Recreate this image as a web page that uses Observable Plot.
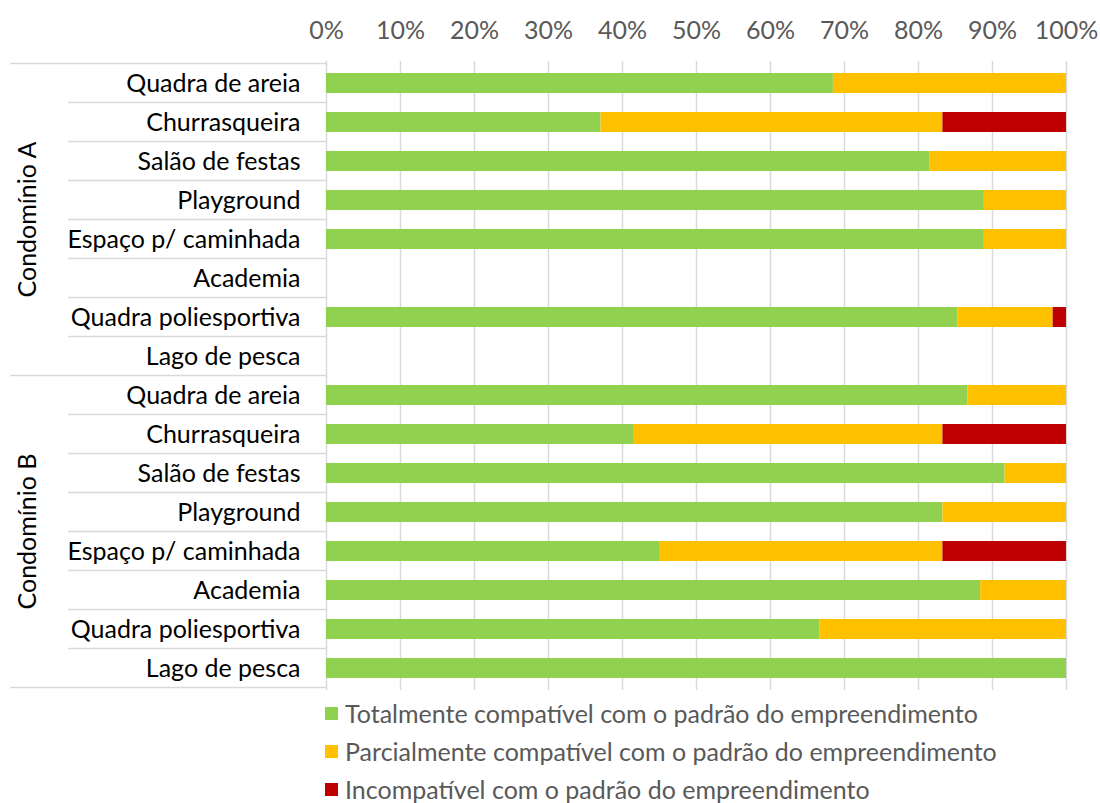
<!DOCTYPE html>
<html><head><meta charset="utf-8">
<script src="https://cdn.jsdelivr.net/npm/d3@7"></script>
<script src="https://cdn.jsdelivr.net/npm/@observablehq/plot@0.6"></script>
<style>
body{margin:0;background:#fff;font-family:Lato,sans-serif}
#legend{margin-left:325px}
.item{display:flex;align-items:center;height:38px;font-size:25px;color:#595959}
.sw{width:13px;height:13px;margin-right:7px;flex:none}
</style></head>
<body><div id="chart"></div><div id="legend"></div>
<script>
const groups = ["Condomínio A", "Condomínio B"];
const items = ["Quadra de areia","Churrasqueira","Salão de festas","Playground","Espaço p/ caminhada","Academia","Quadra poliesportiva","Lago de pesca"];
const categories = ["Totalmente compatível com o padrão do empreendimento","Parcialmente compatível com o padrão do empreendimento","Incompatível com o padrão do empreendimento"];
const colors = ["#92D050","#FFC000","#C00000"];
const xTicks = [0,10,20,30,40,50,60,70,80,90,100];

const totalA   = [68.5, 37.1, 81.5, 88.9, 88.9, null, 85.3, null];
const parcialA = [31.5, 46.2, 18.5, 11.1, 11.1, null, 12.9, null];
const incompA  = [0,    16.7, 0,    0,    0,    null, 1.8,  null];
const totalB   = [86.7, 41.6, 91.7, 83.3, 45.0, 88.4, 66.7, 100];
const parcialB = [13.3, 41.7, 8.3,  16.7, 38.3, 11.6, 33.3, 0];
const incompB  = [0,    16.7, 0,    0,    16.7, 0,    0,    0];

const series = [[totalA, parcialA, incompA],[totalB, parcialB, incompB]];
const keys = [];
const data = [];
groups.forEach((g, gi) => {
  items.forEach((it, i) => {
    const key = g + "|" + it;
    keys.push(key);
    categories.forEach((c, ci) => {
      const v = series[gi][ci][i];
      if (v != null && v > 0) data.push({key, cat: c, value: v});
    });
  });
});

const chart = Plot.plot({
  width: 1100, height: 694,
  marginLeft: 326, marginRight: 34, marginTop: 61, marginBottom: 4,
  style: {fontFamily: "Lato, sans-serif", background: "#fff", overflow: "visible"},
  x: {domain: [0, 100]},
  y: {domain: keys, paddingInner: 0.5, paddingOuter: 0.25},
  color: {domain: categories, range: colors},
  marks: [
    Plot.gridX(xTicks, {stroke: "#d9d9d9", strokeOpacity: 1, strokeWidth: 1.5}),
    Plot.barX(data, {x: "value", y: "key", fill: "cat", order: categories}),
    Plot.axisX({anchor: "top", ticks: xTicks, tickFormat: d => d + "%", tickSize: 0, tickPadding: 23, fontSize: 25, fill: "#595959", label: null}),
    Plot.axisY({tickSize: 0, tickPadding: 26, fontSize: 25, fill: "#000", tickFormat: d => d.split("|")[1], label: null})
  ]
});
document.getElementById("chart").appendChild(chart);
chart.style.display = "block";

const ys = chart.scale("y");
const step = ys.step, bw = ys.bandwidth;
const rowTop = k => ys.apply(k) - (step - bw) / 2;
const svg = d3.select(chart);
const gSep = svg.append("g").attr("stroke", "#d9d9d9").attr("stroke-width", 1.5);
const bounds = keys.map(rowTop).concat([rowTop(keys[keys.length - 1]) + step]);
bounds.forEach((y, i) => {
  gSep.append("line")
    .attr("x1", i % items.length === 0 ? 10 : 68)
    .attr("x2", 326)
    .attr("y1", y).attr("y2", y);
});
groups.forEach((g, gi) => {
  const first = rowTop(keys[gi * items.length]);
  const cy = first + step * items.length / 2;
  svg.append("text")
    .attr("transform", `translate(30,${cy}) rotate(-90)`)
    .attr("text-anchor", "middle")
    .attr("dominant-baseline", "middle")
    .attr("font-size", 25)
    .attr("font-family", "Lato, sans-serif")
    .attr("fill", "#000")
    .text(g);
});

const legend = d3.select("#legend");
categories.forEach((c, i) => {
  const it = legend.append("div").attr("class", "item");
  it.append("div").attr("class", "sw").style("background", colors[i]);
  it.append("span").text(c);
});
</script>
</body></html>
